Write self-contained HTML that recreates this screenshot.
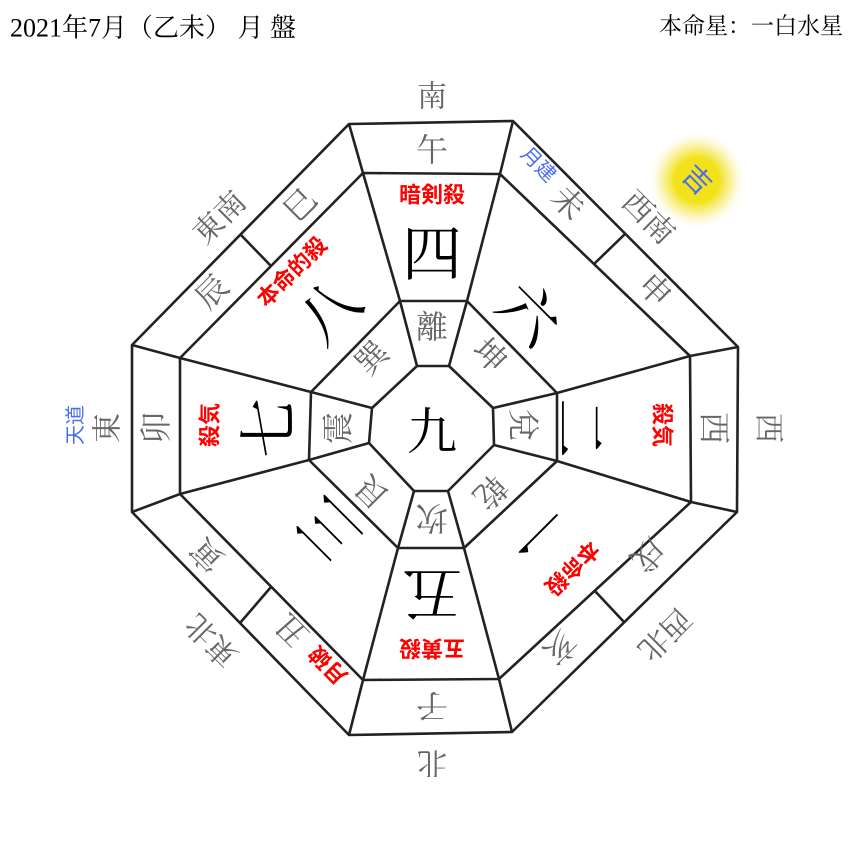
<!DOCTYPE html>
<html><head><meta charset="utf-8"><style>
html,body{margin:0;padding:0;background:#fff}
svg{display:block}
.g{fill:#666;font-family:"Liberation Serif","Noto Serif CJK SC",serif;font-size:32px}
.b{fill:#000;font-family:"Liberation Serif","Noto Serif CJK SC",serif;font-size:60px}
.r{fill:#f00;font-family:"Liberation Sans","Noto Sans CJK SC",sans-serif;font-size:22px;font-weight:bold}
.bl{fill:#4a6cf0;font-family:"Liberation Sans","Noto Sans CJK SC",sans-serif;font-size:20px}
.t{fill:#666;font-family:"Liberation Serif","Noto Serif CJK SC",serif;font-size:30px}
text{text-anchor:middle;dominant-baseline:central}
</style></head><body>
<svg width="860" height="860" viewBox="0 0 860 860" xmlns="http://www.w3.org/2000/svg">
<defs><radialGradient id="gl"><stop offset="0.45" stop-color="#f2e21a"/><stop offset="0.7" stop-color="#f6ea70" stop-opacity="0.6"/><stop offset="1" stop-color="#fff" stop-opacity="0"/></radialGradient></defs>
<text x="10" y="28" style="text-anchor:start;font-family:'Liberation Serif','Noto Serif CJK SC',serif;font-size:26px;fill:#000">2021年7月（乙未） 月 盤</text>
<text x="843" y="26" style="text-anchor:end;font-family:'Liberation Serif','Noto Serif CJK SC',serif;font-size:23px;fill:#000">本命星：一白水星</text>
<circle cx="697" cy="180" r="50" fill="url(#gl)"/>
<g fill="none" stroke="#222" stroke-width="2.6" stroke-linejoin="round">
<polygon points="349,124 513,121 738,347 737,512 512,732 349,735 132,512 132,345"/>
<polygon points="363,173 500,174 690,356 691,502 499,679 363,680 180,494 180,358"/>
<polygon points="400,301 467,301 557,393 557,461 464,548 398,548 309,460 311,392"/>
<polygon points="417,366 449,366 493,408 494,445 448,491 414,491 369,443 372,408"/>
<path d="M349,124 L363,173 L400,301 L417,366 M513,121 L500,174 L467,301 L449,366 M738,347 L690,356 L557,393 L493,408 M737,512 L691,502 L557,461 L494,445 M512,732 L499,679 L464,548 L448,491 M349,735 L363,680 L398,548 L414,491 M132,512 L180,494 L309,460 L369,443 M132,345 L180,358 L311,392 L372,408"/>
<path d="M625,234 L594,264 M624,622 L594,590 M240,623 L271,587 M240,234 L271,266"/>
</g>
<!-- N -->
<text class="t" x="432" y="97">南</text>
<text class="g" x="432" y="150">午</text>
<text class="r" x="432" y="195">暗剣殺</text>
<text class="b" x="432" y="255">四</text>
<text class="g" x="432" y="327">離</text>
<text class="b" x="432" y="432" style="font-size:50px">九</text>
<!-- NE -->
<g transform="rotate(45 490 355)"><text class="g" x="490" y="355">坤</text></g>
<g transform="rotate(45 528 315)"><text class="b" x="528" y="315">六</text></g>
<g transform="rotate(45 538 165)"><text class="bl" x="538" y="165">月建</text></g>
<g transform="rotate(45 568 203)"><text class="g" x="568" y="203">未</text></g>
<g transform="rotate(45 655 290)"><text class="g" x="655" y="290">申</text></g>
<g transform="rotate(45 648 218)"><text class="t" x="648" y="218">西南</text></g>
<g transform="rotate(45 697 180)"><text class="bl" x="697" y="180" style="font-size:28px">吉</text></g>
<!-- E -->
<g transform="rotate(90 523 425)"><text class="g" x="523" y="425">兌</text></g>
<g transform="rotate(90 578 428)"><text class="b" x="578" y="428">二</text></g>
<g transform="rotate(90 662 425)"><text class="r" x="662" y="425">殺気</text></g>
<g transform="rotate(90 714 428)"><text class="g" x="714" y="428">西</text></g>
<g transform="rotate(90 768 428)"><text class="t" x="768" y="428">西</text></g>
<!-- SE -->
<g transform="rotate(135 490 492)"><text class="g" x="490" y="492">乾</text></g>
<g transform="rotate(135 535 530)"><text class="b" x="535" y="530">一</text></g>
<g transform="rotate(135 572 568)"><text class="r" x="572" y="568">本命殺</text></g>
<g transform="rotate(135 648 555)"><text class="g" x="648" y="555">戌</text></g>
<g transform="rotate(135 560 648)"><text class="g" x="560" y="648">亥</text></g>
<g transform="rotate(135 664 634)"><text class="t" x="664" y="634">西北</text></g>
<!-- S -->
<g transform="rotate(180 432 518)"><text class="g" x="432" y="518">坎</text></g>
<g transform="rotate(180 432 592)"><text class="b" x="432" y="592">五</text></g>
<g transform="rotate(180 432 648)"><text class="r" x="432" y="648">五黄殺</text></g>
<g transform="rotate(180 432 706)"><text class="g" x="432" y="706">子</text></g>
<g transform="rotate(180 432 762)"><text class="t" x="432" y="762">北</text></g>
<!-- SW -->
<g transform="rotate(225 372 492)"><text class="g" x="372" y="492">艮</text></g>
<g transform="rotate(225 330 528)"><text class="b" x="330" y="528">三</text></g>
<g transform="rotate(225 328 665)"><text class="r" x="328" y="665">月破</text></g>
<g transform="rotate(225 292 630)"><text class="g" x="292" y="630">丑</text></g>
<g transform="rotate(225 207 555)"><text class="g" x="207" y="555">寅</text></g>
<g transform="rotate(225 212 640)"><text class="t" x="212" y="640">東北</text></g>
<!-- W -->
<g transform="rotate(270 338 428)"><text class="g" x="338" y="428">震</text></g>
<g transform="rotate(270 270 428)"><text class="b" x="270" y="428">七</text></g>
<g transform="rotate(270 210 425)"><text class="r" x="210" y="425">殺気</text></g>
<g transform="rotate(270 156 428)"><text class="g" x="156" y="428">卯</text></g>
<g transform="rotate(270 108 428)"><text class="t" x="108" y="428">東</text></g>
<g transform="rotate(270 76 425)"><text class="bl" x="76" y="425">天道</text></g>
<!-- NW -->
<g transform="rotate(315 372 358)"><text class="g" x="372" y="358">巽</text></g>
<g transform="rotate(315 330 312)"><text class="b" x="330" y="312">八</text></g>
<g transform="rotate(315 292 272)"><text class="r" x="292" y="272">本命的殺</text></g>
<g transform="rotate(315 212 292)"><text class="g" x="212" y="292">辰</text></g>
<g transform="rotate(315 300 205)"><text class="g" x="300" y="205">巳</text></g>
<g transform="rotate(315 220 218)"><text class="t" x="220" y="218">東南</text></g>
</svg>
</body></html>
